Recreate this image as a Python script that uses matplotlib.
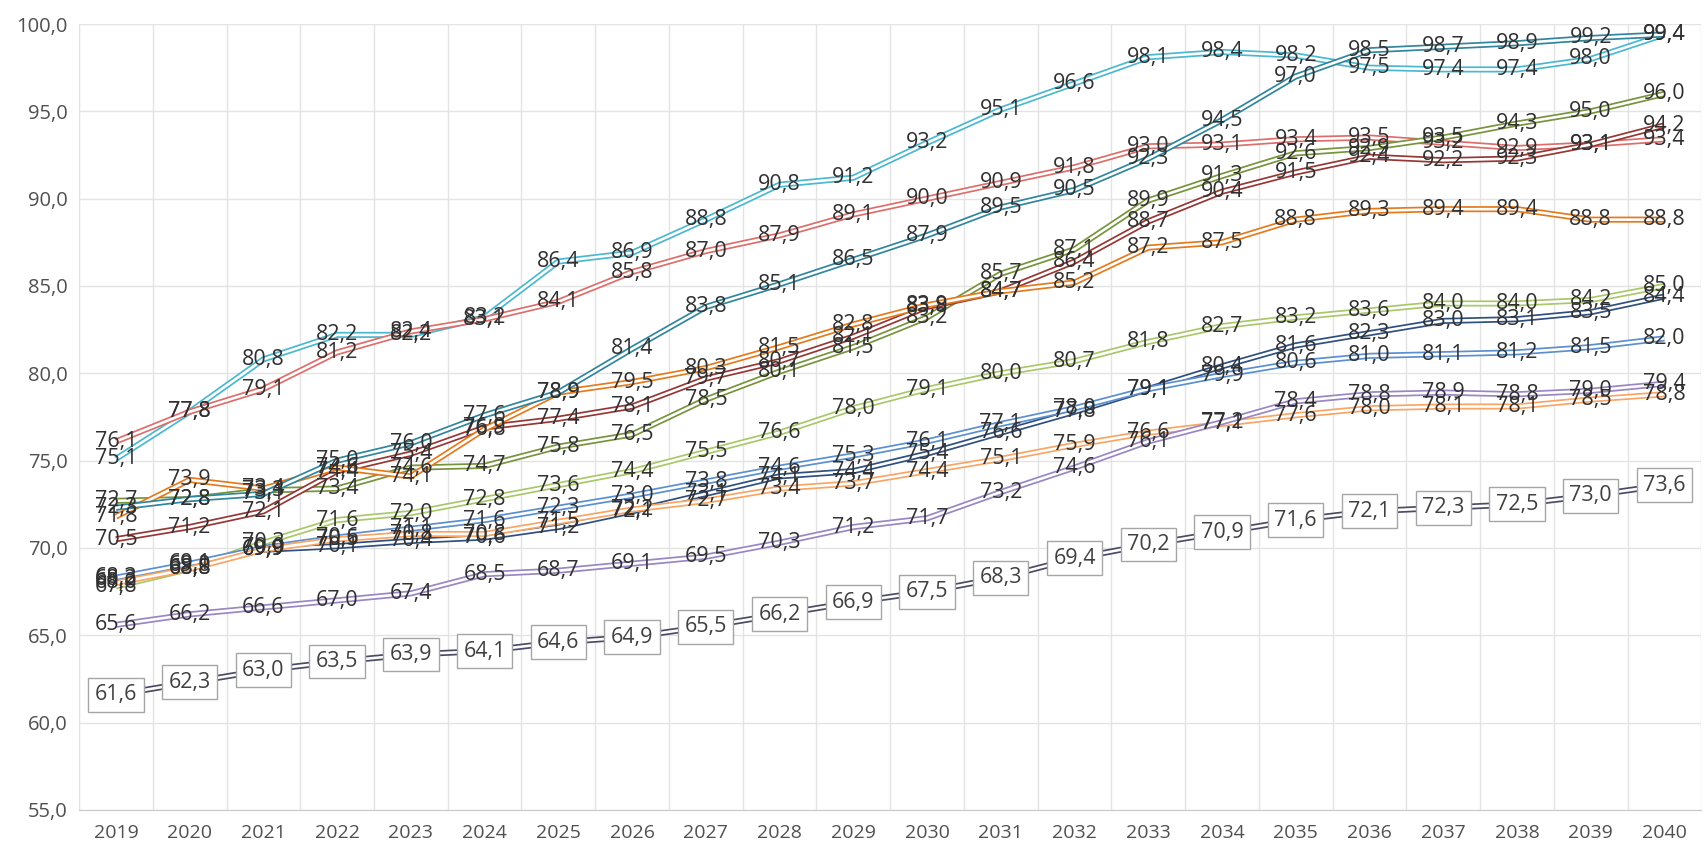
import matplotlib.pyplot as plt
from matplotlib.ticker import MultipleLocator, FuncFormatter
import numpy as np

years = list(range(2019, 2041))

cyan = [75.1, 77.8, 80.8, 82.2, 82.2, 83.2, 86.4, 86.9, 88.8, 90.8, 91.2,
        93.2, 95.1, 96.6, 98.1, 98.4, 98.2, 97.5, 97.4, 97.4, 98.0, 99.4]
red = [76.1, 77.8, 79.1, 81.2, 82.4, 83.1, 84.1, 85.8, 87.0, 87.9, 89.1,
       90.0, 90.9, 91.8, 93.0, 93.1, 93.4, 93.5, 93.2, 92.9, 93.1, 93.4]
teal = [72.3, 72.8, 73.1, 75.0, 76.0, 77.6, 78.9, 81.4, 83.8, 85.1, 86.5,
        87.9, 89.5, 90.5, 92.3, 94.5, 97.0, 98.5, 98.7, 98.9, 99.2, 99.4]
olive = [72.7, 72.8, 73.3, 73.4, 74.6, 74.7, 75.8, 76.5, 78.5, 80.1, 81.5,
         83.2, 85.7, 87.1, 89.9, 91.3, 92.6, 92.9, 93.5, 94.3, 95.0, 96.0]
maroon = [70.5, 71.2, 72.1, 74.4, 75.4, 76.9, 77.4, 78.1, 79.7, 80.7, 82.1,
          83.8, 84.7, 86.4, 88.7, 90.4, 91.5, 92.4, 92.2, 92.3, 93.1, 94.2]
orange = [71.8, 73.9, 73.4, 74.6, 74.1, 76.8, 78.9, 79.5, 80.3, 81.5, 82.8,
          83.9, 84.7, 85.2, 87.2, 87.5, 88.8, 89.3, 89.4, 89.4, 88.8, 88.8]
light_green = [67.8, 68.8, 70.3, 71.6, 72.0, 72.8, 73.6, 74.4, 75.5, 76.6, 78.0,
               79.1, 80.0, 80.7, 81.8, 82.7, 83.2, 83.6, 84.0, 84.0, 84.2, 85.0]
navy = [68.2, 69.0, 69.9, 70.1, 70.4, 70.6, 71.2, 72.1, 73.1, 74.1, 74.4,
        75.4, 76.6, 77.8, 79.1, 80.4, 81.6, 82.3, 83.0, 83.1, 83.5, 84.4]
blue = [68.3, 69.1, 70.0, 70.6, 71.1, 71.6, 72.3, 73.0, 73.8, 74.6, 75.3,
        76.1, 77.1, 78.0, 79.1, 79.9, 80.6, 81.0, 81.1, 81.2, 81.5, 82.0]
light_orange = [68.0, 68.8, 69.9, 70.5, 70.8, 70.8, 71.5, 72.2, 72.7, 73.4, 73.7,
                74.4, 75.1, 75.9, 76.6, 77.1, 77.6, 78.0, 78.1, 78.1, 78.5, 78.8]
purple = [65.6, 66.2, 66.6, 67.0, 67.4, 68.5, 68.7, 69.1, 69.5, 70.3, 71.2,
          71.7, 73.2, 74.6, 76.1, 77.2, 78.4, 78.8, 78.9, 78.8, 79.0, 79.4]
gray = [61.6, 62.3, 63.0, 63.5, 63.9, 64.1, 64.6, 64.9, 65.5, 66.2, 66.9,
        67.5, 68.3, 69.4, 70.2, 70.9, 71.6, 72.1, 72.3, 72.5, 73.0, 73.6]

series = [
    (cyan, '#4BB8D0'),
    (red, '#DC6E6B'),
    (olive, '#77933C'),
    (maroon, '#953735'),
    (orange, '#E47A1E'),
    (light_green, '#A8C86A'),
    (navy, '#2F4F7F'),
    (blue, '#5B8FD0'),
    (light_orange, '#F8A565'),
    (purple, '#9A86C2'),
    (teal, '#31859C'),
]

fmt = lambda v: f'{v:.1f}'.replace('.', ',')
FONT = 'Open Sans'

fig = plt.figure(figsize=(17.04, 8.49), dpi=100)
ax = fig.add_axes([0.0464, 0.046, 0.952, 0.9257])

x = np.arange(len(years))

# double (compound) lines: coloured stroke with a white core
for vals, col in series:
    ax.plot(x, vals, color=col, lw=4.4, solid_capstyle='butt', zorder=3)
    ax.plot(x, vals, color='white', lw=1.9, solid_capstyle='butt', zorder=3)

ax.plot(x, gray, color='#4B4B66', lw=4.4, solid_capstyle='butt', zorder=3)
ax.plot(x, gray, color='white', lw=1.9, solid_capstyle='butt', zorder=3)

for vals, col in series:
    for xi, v in zip(x, vals):
        ax.text(xi, v, fmt(v), ha='center', va='center', fontsize=15.5,
                color='#303030', family=FONT, zorder=5)

for xi, v in zip(x, gray):
    ax.text(xi, v, fmt(v), ha='center', va='center', fontsize=15.5,
            color='#404040', family=FONT, zorder=6,
            bbox=dict(boxstyle='square,pad=0.3', fc='white', ec='#A6A6A6', lw=1))

ax.set_xlim(-0.5, len(years) - 0.5)
ax.set_ylim(55, 100)
ax.set_xticks(x)
ax.set_xticklabels([str(y) for y in years])
ax.xaxis.set_minor_locator(MultipleLocator(1, offset=0.5))
ax.yaxis.set_major_locator(MultipleLocator(5))
ax.yaxis.set_major_formatter(FuncFormatter(lambda v, p: fmt(v)))

ax.grid(axis='y', which='major', color='#E3E3E3', lw=1)
ax.grid(axis='x', which='minor', color='#E3E3E3', lw=1)
ax.set_axisbelow(True)
ax.tick_params(which='both', length=0)
ax.tick_params(axis='x', labelsize=14, colors='#505050', pad=10)
ax.tick_params(axis='y', labelsize=14.5, colors='#505050', pad=8)
for lbl in ax.get_xticklabels() + ax.get_yticklabels():
    lbl.set_family(FONT)

for side in ['top', 'right']:
    ax.spines[side].set_visible(False)
ax.spines['left'].set_color('#E3E3E3')
ax.spines['bottom'].set_color('#C8C8C8')

fig.savefig('out.png', dpi=100, facecolor='white')
